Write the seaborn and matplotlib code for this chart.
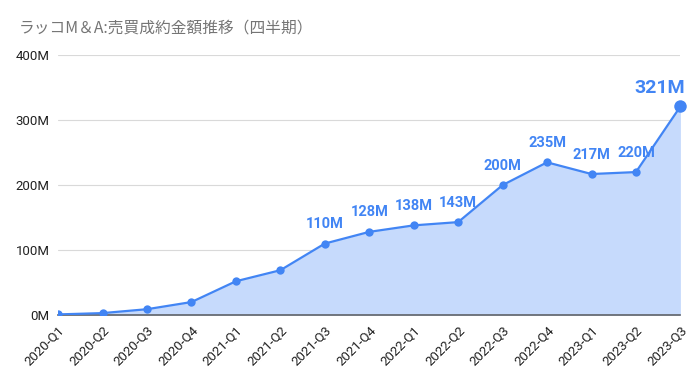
import matplotlib
matplotlib.use("Agg")
import matplotlib.pyplot as plt
import seaborn as sns
import pandas as pd
import numpy as np

quarters = ["2020-Q1", "2020-Q2", "2020-Q3", "2020-Q4", "2021-Q1", "2021-Q2", "2021-Q3",
            "2021-Q4", "2022-Q1", "2022-Q2", "2022-Q3", "2022-Q4", "2023-Q1", "2023-Q2", "2023-Q3"]
values = [1, 3, 9, 20, 52, 69, 110, 128, 138, 143, 200, 235, 217, 220, 321]
labels = ["", "", "", "", "", "", "110M", "128M", "138M", "143M", "200M", "235M", "217M", "220M", "321M"]
yticks = [0, 100, 200, 300, 400]
ytick_labels = ["0M", "100M", "200M", "300M", "400M"]

sns.set_theme(style="white")
plt.rcParams['font.family'] = ['Noto Sans CJK JP', 'DejaVu Sans']

df = pd.DataFrame({"idx": np.arange(len(quarters)), "value": values})

fig = plt.figure(figsize=(7, 3.88), dpi=100)
ax = fig.add_axes([0.083, 0.188, 0.889, 0.67])

line_color = "#4285f4"
ax.fill_between(df["idx"], df["value"], 0, color="#c6dafc", zorder=1, linewidth=0)
sns.lineplot(data=df, x="idx", y="value", ax=ax, color=line_color, linewidth=1.6,
             marker="o", markersize=6, markeredgewidth=0, zorder=3)
ax.plot(df["idx"].iloc[-1], df["value"].iloc[-1], "o", color=line_color, markersize=9,
        markeredgewidth=0, zorder=4, clip_on=False)

for i, (v, lab) in enumerate(zip(values, labels)):
    if not lab:
        continue
    big = i == len(values) - 1
    ax.annotate(lab, (i, v), xytext=(-15, 7) if big else (0, 9), textcoords="offset points",
                ha="center", va="bottom", color=line_color, fontweight="bold",
                fontsize=14 if big else 10.5, family=["Roboto", "DejaVu Sans"], zorder=5)

ax.set_xlim(0, len(quarters) - 1)
ax.set_ylim(0, 400)
ax.set_yticks(yticks)
ax.set_yticklabels(ytick_labels, family=["Roboto", "DejaVu Sans"], fontsize=9.5, color="#222222")
ax.set_xticks(range(len(quarters)))
ax.set_xticklabels(quarters, rotation=45, ha="right", rotation_mode="anchor",
                   family=["Roboto", "DejaVu Sans"], fontsize=9.5, color="#222222")
ax.tick_params(axis="both", length=0, pad=6)
ax.grid(axis="y", color="#d9d9d9", linewidth=0.8)
ax.set_axisbelow(True)
for s in ["top", "right", "left"]:
    ax.spines[s].set_visible(False)
ax.spines["bottom"].set_color("#5f6368")
ax.spines["bottom"].set_linewidth(1.2)
ax.set_xlabel("")
ax.set_ylabel("")

fig.text(0.027, 0.915, "ラッコM＆A:売買成約金額推移（四半期）", fontsize=11.3, color="#757575",
         family=["Noto Sans CJK JP", "DejaVu Sans"])

fig.savefig("out.png", dpi=100)
